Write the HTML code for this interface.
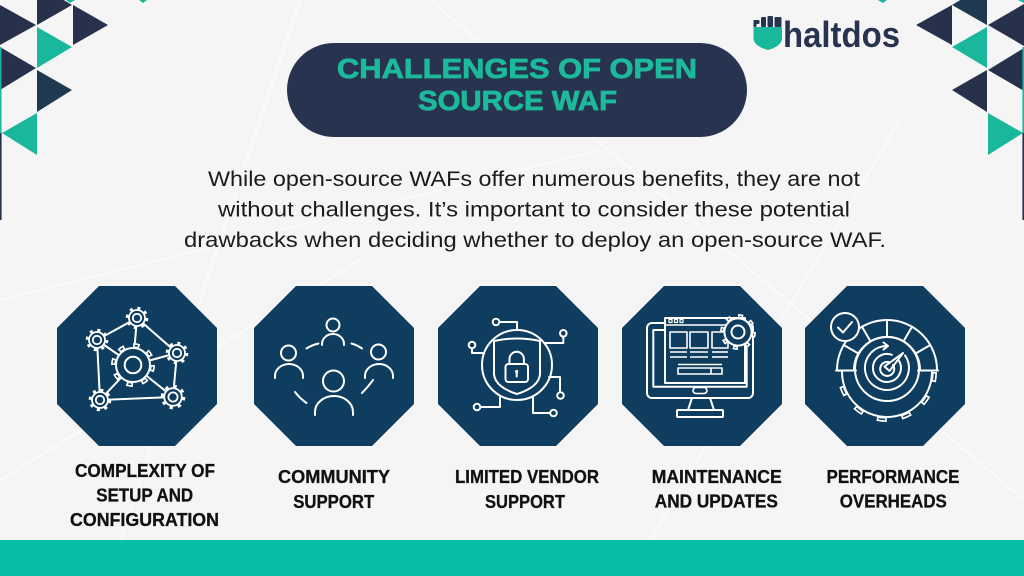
<!DOCTYPE html>
<html><head><meta charset="utf-8"><style>
html,body{margin:0;padding:0;width:1024px;height:576px;overflow:hidden;background:#f5f5f5}
svg{display:block}
text{font-family:"Liberation Sans",sans-serif}
</style></head><body>
<svg width="1024" height="576" viewBox="0 0 1024 576" xmlns="http://www.w3.org/2000/svg">
<defs>
<clipPath id="lowhalf"><rect x="820" y="371" width="140" height="70"/></clipPath>
</defs>
<rect width="1024" height="576" fill="#f5f5f5"/>
<!-- faint background lines -->
<g stroke="#fbfbfb" stroke-width="2" fill="none" opacity="0.9">
<line x1="300" y1="0" x2="120" y2="540"/>
<line x1="0" y1="300" x2="600" y2="150"/>
<line x1="430" y1="0" x2="1024" y2="500"/>
<line x1="900" y1="120" x2="650" y2="540"/>
<line x1="0" y1="480" x2="360" y2="260"/>
</g>

<!-- left triangles -->
<g>
<polygon points="0,5 0,45 36,25" fill="#27314c"/>
<polygon points="37,-16 37,25 72,5" fill="#27314c"/>
<polygon points="73,5 73,45 108,25" fill="#27314c"/>
<polygon points="37,27 37,68 72,47" fill="#19b79b"/>
<polygon points="0,47 0,90 36,68" fill="#27314c"/>
<polygon points="37,70 37,112 72,90" fill="#1f3a50"/>
<polygon points="37,113 37,155 2,133" fill="#19b79b"/>
<polygon points="66,0 75,0 70,3" fill="#19b79b"/>
<polygon points="139,0 147,0 143,3" fill="#19b79b"/>
<rect x="0" y="47" width="1.5" height="86" fill="#19b79b"/>
<rect x="0" y="133" width="1.6" height="87" fill="#27314c"/>
</g>
<!-- right triangles -->
<g>
<polygon points="916,25 952,5 952,45" fill="#27314c"/>
<polygon points="952,5 987,-16 987,25" fill="#1f3a50"/>
<polygon points="988,25 1024,4 1024,46" fill="#27314c"/>
<polygon points="952,47 987,27 987,68" fill="#19b79b"/>
<polygon points="988,70 1024,48 1024,91" fill="#27314c"/>
<polygon points="952,90 987,70 987,112" fill="#27314c"/>
<polygon points="988,113 988,155 1023,133" fill="#19b79b"/>
<polygon points="878,0 887,0 883,3" fill="#19b79b"/>
<polygon points="1018,0 1024,0 1024,3" fill="#19b79b"/>
<rect x="1022.4" y="47" width="1.6" height="86" fill="#19b79b"/>
<rect x="1022.4" y="133" width="1.6" height="87" fill="#27314c"/>
</g>

<!-- logo -->
<g>
<path d="M753.5,27 H782 V38 Q782,46 768,50 Q753.5,46 753.5,38 Z" fill="#19b79b"/>
<rect x="753.5" y="20" width="6" height="4" rx="1" fill="#27334f"/>
<rect x="753.5" y="20" width="3" height="7" rx="1" fill="#27334f"/>
<rect x="761" y="17" width="5" height="10" rx="1" fill="#27334f"/>
<rect x="767.5" y="16" width="5.5" height="11" rx="1" fill="#27334f"/>
<rect x="774.5" y="17" width="7" height="10" rx="1" fill="#27334f"/>
<text x="783" y="47" font-size="36" font-weight="bold" fill="#27334f" textLength="117" lengthAdjust="spacingAndGlyphs">haltdos</text>
</g>

<!-- title pill -->
<rect x="287" y="43" width="460" height="94" rx="47" fill="#27334f"/>
<text x="517" y="78" text-anchor="middle" font-size="28" font-weight="bold" fill="#1db99b" stroke="#1db99b" stroke-width="0.8" textLength="360" lengthAdjust="spacingAndGlyphs">CHALLENGES OF OPEN</text>
<text x="517.5" y="110" text-anchor="middle" font-size="28" font-weight="bold" fill="#1db99b" stroke="#1db99b" stroke-width="0.8" textLength="199" lengthAdjust="spacingAndGlyphs">SOURCE WAF</text>

<!-- paragraph -->
<g font-size="21" fill="#1b1b1b" text-anchor="middle">
<text x="534" y="186" textLength="652" lengthAdjust="spacingAndGlyphs">While open-source WAFs offer numerous benefits, they are not</text>
<text x="534" y="216.5" textLength="632" lengthAdjust="spacingAndGlyphs">without challenges. It’s important to consider these potential</text>
<text x="535" y="247" textLength="702" lengthAdjust="spacingAndGlyphs">drawbacks when deciding whether to deploy an open-source WAF.</text>
</g>

<!-- octagons -->
<g fill="#0e3d5f">
<polygon points="99,286 175,286 217,328 217,404 175,446 99,446 57,404 57,328"/>
<polygon points="296,286 372,286 414,328 414,404 372,446 296,446 254,404 254,328"/>
<polygon points="480,286 556,286 598,328 598,404 556,446 480,446 438,404 438,328"/>
<polygon points="664,286 740,286 782,328 782,404 740,446 664,446 622,404 622,328"/>
<polygon points="847,286 923,286 965,328 965,404 923,446 847,446 805,404 805,328"/>
</g>

<!-- icon 1: gears network -->
<g stroke="#fff" stroke-width="2" fill="none" stroke-linecap="round">
<line x1="137" y1="318" x2="97" y2="340"/>
<line x1="137" y1="318" x2="177" y2="353"/>
<line x1="97" y1="340" x2="100" y2="400"/>
<line x1="100" y1="400" x2="173" y2="397"/>
<line x1="177" y1="353" x2="173" y2="397"/>
<line x1="137" y1="318" x2="133" y2="365"/>
<line x1="97" y1="340" x2="133" y2="365"/>
<line x1="177" y1="353" x2="133" y2="365"/>
<line x1="100" y1="400" x2="133" y2="365"/>
<line x1="173" y1="397" x2="133" y2="365"/>
</g>
<g stroke="#fff" fill="#0e3d5f">
<!-- central gear -->
<g transform="translate(133,365)">
<circle r="19.5" fill="none" stroke-width="5" stroke-dasharray="6.5 8.8"/>
<circle r="19.5" fill="none" stroke="#0e3d5f" stroke-width="1.6" stroke-dasharray="3.1 12.2" stroke-dashoffset="-1.7"/>
<circle r="17" stroke-width="2"/>
<circle r="8.3" fill="none" stroke-width="2"/>
</g>
<g transform="translate(137,318)"><circle r="9.6" fill="none" stroke-width="3.4" stroke-dasharray="3 4.54"/><circle r="8" stroke-width="1.8"/><circle r="4.2" fill="none" stroke-width="1.8"/></g>
<g transform="translate(97,340)"><circle r="9.6" fill="none" stroke-width="3.4" stroke-dasharray="3 4.54"/><circle r="8" stroke-width="1.8"/><circle r="4.2" fill="none" stroke-width="1.8"/></g>
<g transform="translate(177,353)"><circle r="9.6" fill="none" stroke-width="3.4" stroke-dasharray="3 4.54"/><circle r="8" stroke-width="1.8"/><circle r="4.2" fill="none" stroke-width="1.8"/></g>
<g transform="translate(100,400)"><circle r="9.6" fill="none" stroke-width="3.4" stroke-dasharray="3 4.54"/><circle r="8" stroke-width="1.8"/><circle r="4.2" fill="none" stroke-width="1.8"/></g>
<g transform="translate(173,397)"><circle r="10.5" fill="none" stroke-width="3.6" stroke-dasharray="3.3 4.95"/><circle r="8.8" stroke-width="1.8"/><circle r="4.6" fill="none" stroke-width="1.8"/></g>
</g>

<!-- icon 2: community -->
<g stroke="#fff" stroke-width="2" fill="none" stroke-linecap="round">
<circle cx="333" cy="325" r="6.5"/>
<path d="M322,345 v-1 a11,10 0 0 1 22,0 v1"/>
<circle cx="288.5" cy="353" r="7.5"/>
<path d="M275,378 v-2 a14,12 0 0 1 28,0 v2"/>
<circle cx="378.5" cy="352" r="7.5"/>
<path d="M365,378 v-2 a14,12 0 0 1 28,0 v2"/>
<circle cx="333.5" cy="381" r="10.5"/>
<path d="M315,415 v-3 a19,16 0 0 1 38,0 v3"/>
<path d="M306.5,348.5 Q312,345 318.5,343.5"/>
<path d="M351.5,343.5 Q357,345 362,348.5"/>
<path d="M295,392 Q300,398.5 306.5,403"/>
<path d="M362,393 Q368,387 373,380"/>
</g>

<!-- icon 3: shield lock circuit -->
<g stroke="#fff" stroke-width="2" fill="none" stroke-linecap="round" stroke-linejoin="round">
<circle cx="517" cy="365" r="35"/>
<path d="M494,341 Q517,336 540,341 L540,374 Q539,387 517,394 Q495,387 494,374 Z"/>
<rect x="505.5" y="364" width="22.5" height="18" rx="3"/>
<path d="M509.5,364 v-5 a7.2,7.2 0 0 1 14.4,0 v5"/>
<circle cx="516.7" cy="371.5" r="1.6" fill="#fff" stroke="none"/>
<line x1="516.7" y1="372" x2="516.7" y2="376.5"/>
<path d="M517,330 V322 H499.5"/>
<circle cx="496" cy="322" r="3.3"/>
<path d="M484,353 H472 V348.5"/>
<circle cx="472" cy="345" r="3.3"/>
<path d="M544,343 H563.3 V336.8"/>
<circle cx="563.3" cy="333.3" r="3.3"/>
<path d="M549,377 H560 V392"/>
<circle cx="560.5" cy="395.5" r="3.3"/>
<path d="M480.5,407 H500 V396"/>
<circle cx="477" cy="407" r="3.3"/>
<path d="M533,396 V413 H550"/>
<circle cx="553.5" cy="413" r="3.3"/>
</g>

<!-- icon 4: monitor -->
<g stroke="#fff" stroke-width="2" fill="none" stroke-linejoin="round">
<rect x="647" y="323" width="106" height="75" rx="5"/>
<rect x="653.3" y="330" width="93.4" height="56.7"/>
<rect x="665" y="318" width="80" height="65" fill="#0e3d5f"/>
<line x1="665" y1="325" x2="745" y2="325" stroke-width="1.6"/>
<rect x="669" y="319.5" width="3" height="3" stroke-width="1.2"/>
<rect x="674.5" y="319.5" width="3" height="3" stroke-width="1.2"/>
<rect x="680" y="319.5" width="3" height="3" stroke-width="1.2"/>
<rect x="670" y="332" width="17" height="16" stroke-width="1.6"/>
<rect x="690" y="332" width="18" height="16" stroke-width="1.6"/>
<rect x="712" y="332" width="16" height="16" stroke-width="1.6"/>
<g stroke-width="1.6">
<line x1="670" y1="352" x2="687" y2="352"/><line x1="670" y1="357" x2="687" y2="357"/>
<line x1="690" y1="352" x2="708" y2="352"/><line x1="690" y1="357" x2="708" y2="357"/>
<line x1="712" y1="352" x2="728" y2="352"/><line x1="712" y1="357" x2="728" y2="357"/>
<line x1="678" y1="364.5" x2="722" y2="364.5"/>
<rect x="678" y="368" width="44" height="6"/>
<line x1="711" y1="368" x2="711" y2="374"/>
</g>
<g transform="translate(738,332)">
<circle r="15.8" fill="none" stroke-width="4.4" stroke-dasharray="5 7.4"/>
<circle r="15.8" fill="none" stroke="#0e3d5f" stroke-width="1" stroke-dasharray="1.8 10.6" stroke-dashoffset="-1.6"/>
<circle r="13.6" fill="#0e3d5f"/>
<circle r="6.5"/>
</g>
<rect x="693" y="387.5" width="14" height="6" rx="3" stroke-width="1.6"/>
<path d="M692,398 L688,410 M710,398 L714,410"/>
<rect x="677" y="410" width="46" height="7" rx="1"/>
</g>

<!-- icon 5: performance -->
<g stroke="#fff" stroke-width="2" fill="none" stroke-linecap="round" stroke-linejoin="round">
<path d="M837,370 A50,50 0 0 1 937,370"/>
<path d="M854,370 A33,33 0 0 1 920,370"/>
<line x1="915.6" y1="353.5" x2="930.3" y2="345"/>
<line x1="903.5" y1="341.4" x2="912" y2="326.7"/>
<line x1="887" y1="337" x2="887" y2="320"/>
<line x1="870.5" y1="341.4" x2="862" y2="326.7"/>
<line x1="858.4" y1="353.5" x2="843.7" y2="345"/>
<line x1="836" y1="370.5" x2="856" y2="370.5"/>
<line x1="918" y1="370.5" x2="938" y2="370.5"/>
<circle cx="887" cy="369" r="32"/>
<path d="M842,372 A45,45 0 0 0 932,372"/>
<g clip-path="url(#lowhalf)">
<circle cx="887" cy="372" r="47.5" stroke-width="5" stroke-dasharray="10 14.9" stroke-linecap="butt"/>
<circle cx="887" cy="372" r="47.5" stroke="#0e3d5f" stroke-width="1.6" stroke-dasharray="6.6 18.3" stroke-dashoffset="-1.7" stroke-linecap="butt"/>
</g>
<path d="M905,355.4 A22,22 0 1 1 887.8,346"/>
<path d="M883.5,342.5 L888,346 L883.5,349.5"/>
<path d="M899.1,361 A14,14 0 1 1 891.8,354.8"/>
<path d="M893,365 A7,7 0 1 1 890,362.5"/>
<polygon points="884.5,366.5 889.5,371 903,353"/>
<circle cx="845" cy="327" r="14" fill="#0e3d5f"/>
<path d="M838,327.5 L843,332.5 L852,322"/>
</g>

<!-- labels -->
<g font-size="18" font-weight="bold" fill="#111" stroke="#111" stroke-width="0.3" text-anchor="middle">
<text x="145" y="477" textLength="140" lengthAdjust="spacingAndGlyphs">COMPLEXITY OF</text>
<text x="144.7" y="501.5" textLength="97" lengthAdjust="spacingAndGlyphs">SETUP AND</text>
<text x="144.5" y="526" textLength="149" lengthAdjust="spacingAndGlyphs">CONFIGURATION</text>
<text x="334" y="483" textLength="112" lengthAdjust="spacingAndGlyphs">COMMUNITY</text>
<text x="333.7" y="508" textLength="81" lengthAdjust="spacingAndGlyphs">SUPPORT</text>
<text x="527" y="483" textLength="144" lengthAdjust="spacingAndGlyphs">LIMITED VENDOR</text>
<text x="525" y="508" textLength="80" lengthAdjust="spacingAndGlyphs">SUPPORT</text>
<text x="716.7" y="483" textLength="130" lengthAdjust="spacingAndGlyphs">MAINTENANCE</text>
<text x="716.3" y="507.5" textLength="123" lengthAdjust="spacingAndGlyphs">AND UPDATES</text>
<text x="893" y="483" textLength="133" lengthAdjust="spacingAndGlyphs">PERFORMANCE</text>
<text x="893.3" y="507.5" textLength="107" lengthAdjust="spacingAndGlyphs">OVERHEADS</text>
</g>

<!-- bottom bar -->
<rect x="0" y="540" width="1024" height="36" fill="#06bea6"/>
</svg>
</body></html>
